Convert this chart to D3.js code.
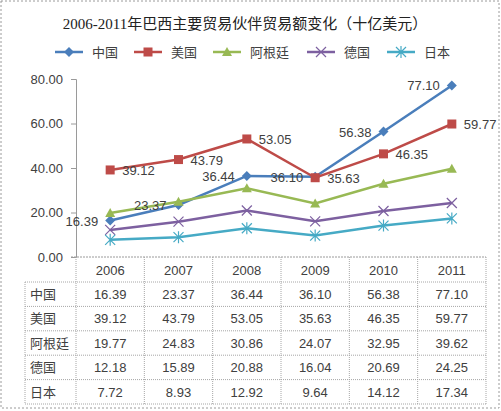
<!DOCTYPE html>
<html>
<head>
<meta charset="utf-8">
<title>巴西主要贸易伙伴贸易额</title>
<script src="https://cdn.jsdelivr.net/npm/d3@7"></script>
<style>
  body { margin: 0; background: #fff; }
  text { font-family: "Liberation Sans", "Noto Sans CJK SC", sans-serif; }
</style>
</head>
<body>
<script>
// data (billion USD)
var years = ["2006", "2007", "2008", "2009", "2010", "2011"];
var countries = ["中国", "美国", "阿根廷", "德国", "日本"];
var china     = [16.39, 23.37, 36.44, 36.10, 56.38, 77.10];
var usa       = [39.12, 43.79, 53.05, 35.63, 46.35, 59.77];
var argentina = [19.77, 24.83, 30.86, 24.07, 32.95, 39.62];
var germany   = [12.18, 15.89, 20.88, 16.04, 20.69, 24.25];
var japan     = [7.72, 8.93, 12.92, 9.64, 14.12, 17.34];
var yTicks = [0, 20, 40, 60, 80];

var colors  = ["#4a7ebb", "#be4b48", "#98b954", "#7d60a0", "#46aac5"];
var markers = ["diamond", "square", "triangle", "cross", "star"];
var series = [china, usa, argentina, germany, japan].map(function(v, i) {
  return { name: countries[i], values: v, color: colors[i], marker: markers[i] };
});

var W = 501, H = 411;
var svg = d3.select("body").append("svg")
  .attr("width", W)
  .attr("height", H);

// dotted frame around the picture
svg.append("rect")
  .attr("x", 1).attr("y", 1).attr("width", W - 3).attr("height", H - 4)
  .attr("fill", "none").attr("stroke", "#9a9a9a").attr("stroke-dasharray", "2,2");

svg.append("text")
  .attr("x", 245).attr("y", 29)
  .attr("text-anchor", "middle")
  .style("font-family", "'Liberation Serif', 'Noto Sans CJK SC', serif")
  .style("font-size", "15px")
  .attr("fill", "#222")
  .text("2006-2011年巴西主要贸易伙伴贸易额变化（十亿美元）");

var x = d3.scaleBand().domain(years).range([76, 486]);
var y = d3.scaleLinear().domain([0, 80]).range([257, 79]);
function cx(d, i) { return x(years[i]) + x.bandwidth() / 2; }

function drawMarker(g, type, color) {
  if (type == "diamond") {
    g.append("path").attr("d", "M0,-5L5,0L0,5L-5,0Z").attr("fill", color);
  } else if (type == "square") {
    g.append("rect").attr("x", -4.5).attr("y", -4.5).attr("width", 9).attr("height", 9).attr("fill", color);
  } else if (type == "triangle") {
    g.append("path").attr("d", "M0,-5L5,4L-5,4Z").attr("fill", color);
  } else if (type == "cross") {
    g.append("path").attr("d", "M-5,-5L5,5M-5,5L5,-5").attr("stroke", color).attr("stroke-width", 1.2).attr("fill", "none");
  } else {
    g.append("path").attr("d", "M-5,-5L5,5M-5,5L5,-5M0,-6L0,6").attr("stroke", color).attr("stroke-width", 1.2).attr("fill", "none");
  }
}

// legend
var legendX = [55, 134, 213, 307, 387];
var leg = svg.selectAll("g.legend")
  .data(series)
  .enter().append("g")
  .attr("class", "legend")
  .attr("transform", function(d, i) { return "translate(" + legendX[i] + ",52)"; });
leg.append("line")
  .attr("x1", 0).attr("x2", 28)
  .attr("stroke", function(d) { return d.color; })
  .attr("stroke-width", 2.5);
leg.each(function(d) {
  var m = d3.select(this).append("g").attr("transform", "translate(14,0)");
  drawMarker(m, d.marker, d.color);
});
leg.append("text")
  .attr("x", 37).attr("y", 5)
  .style("font-size", "13px")
  .attr("fill", "#404040")
  .text(function(d) { return d.name; });

// y axis
var yAxis = svg.append("g")
  .attr("transform", "translate(76,0)")
  .call(d3.axisLeft(y).tickValues(yTicks).tickFormat(d3.format(".2f")).tickSize(5).tickPadding(8));
yAxis.selectAll("line, path").attr("stroke", "#9a9a9a");
yAxis.selectAll("text").style("font-size", "13px").attr("fill", "#404040")
  .style("font-family", "'Liberation Sans', sans-serif");

// x axis line
svg.append("line")
  .attr("x1", 71).attr("x2", 486).attr("y1", y(0)).attr("y2", y(0))
  .attr("stroke", "#9a9a9a").attr("stroke-dasharray", "2,1");

// lines and markers
var line = d3.line()
  .x(cx)
  .y(function(d) { return y(d); });

var sg = svg.selectAll("g.series")
  .data(series)
  .enter().append("g")
  .attr("class", "series");
sg.append("path")
  .attr("d", function(d) { return line(d.values); })
  .attr("fill", "none")
  .attr("stroke", function(d) { return d.color; })
  .attr("stroke-width", 2.5);
sg.each(function(s) {
  var g = d3.select(this);
  s.values.forEach(function(v, i) {
    var m = g.append("g").attr("transform", "translate(" + cx(v, i) + "," + y(v) + ")");
    drawMarker(m, s.marker, s.color);
  });
});

// data labels: China on the left, USA on the right
svg.selectAll("text.lblCn")
  .data(china)
  .enter().append("text")
  .attr("class", "lblCn")
  .attr("x", function(d, i) { return cx(d, i) - 12; })
  .attr("y", function(d) { return y(d) + 5; })
  .attr("text-anchor", "end")
  .style("font-size", "13px")
  .attr("fill", "#404040")
  .text(function(d) { return d.toFixed(2); });
svg.selectAll("text.lblUs")
  .data(usa)
  .enter().append("text")
  .attr("class", "lblUs")
  .attr("x", function(d, i) { return cx(d, i) + 12; })
  .attr("y", function(d) { return y(d) + 5; })
  .style("font-size", "13px")
  .attr("fill", "#404040")
  .text(function(d) { return d.toFixed(2); });

// data table
var rowTop = 282, rowH = 24.4, labelLeft = 25;
var grid = svg.append("g")
  .attr("stroke", "#a6a6a6")
  .attr("stroke-dasharray", "1,1");
for (var r = 0; r <= countries.length; r++) {
  grid.append("line")
    .attr("x1", labelLeft).attr("x2", 486)
    .attr("y1", rowTop + r * rowH).attr("y2", rowTop + r * rowH);
}
grid.append("line")
  .attr("x1", labelLeft).attr("x2", labelLeft)
  .attr("y1", rowTop).attr("y2", rowTop + countries.length * rowH);
years.forEach(function(yr, i) {
  grid.append("line")
    .attr("x1", x(yr)).attr("x2", x(yr))
    .attr("y1", y(0)).attr("y2", rowTop + countries.length * rowH);
});
grid.append("line")
  .attr("x1", 486).attr("x2", 486)
  .attr("y1", y(0)).attr("y2", rowTop + countries.length * rowH);

svg.selectAll("text.year")
  .data(years)
  .enter().append("text")
  .attr("class", "year")
  .attr("x", function(d) { return x(d) + x.bandwidth() / 2; })
  .attr("y", 275)
  .attr("text-anchor", "middle")
  .style("font-size", "13px")
  .attr("fill", "#404040")
  .text(function(d) { return d; });

series.forEach(function(s, r) {
  var ty = rowTop + r * rowH + 17;
  svg.append("text")
    .attr("x", 30).attr("y", ty)
    .style("font-size", "13px")
    .attr("fill", "#404040")
    .text(s.name);
  svg.selectAll("text.cell" + r)
    .data(s.values)
    .enter().append("text")
    .attr("class", "cell" + r)
    .attr("x", cx)
    .attr("y", ty)
    .attr("text-anchor", "middle")
    .style("font-size", "13px")
    .attr("fill", "#404040")
    .text(function(d) { return d.toFixed(2); });
});
</script>
</body>
</html>
